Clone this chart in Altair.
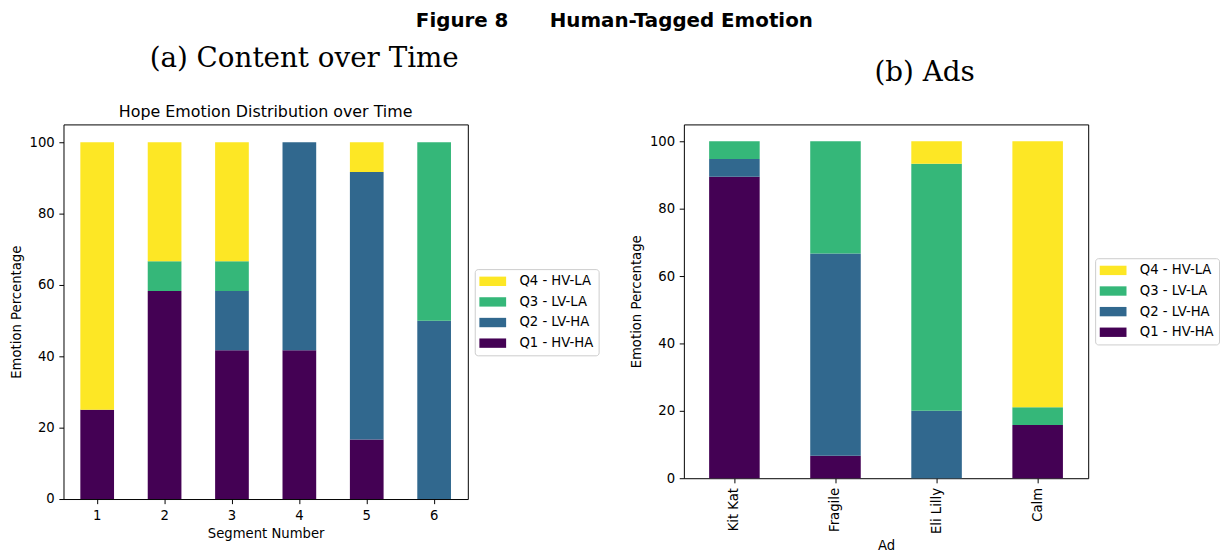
import altair as alt
import pandas as pd

# ---- data ----
segments = ["1", "2", "3", "4", "5", "6"]
seg_q1 = [25.0, 58.33, 41.67, 41.67, 16.67, 0.0]
seg_q2 = [0.0, 0.0, 16.67, 58.33, 75.0, 50.0]
seg_q3 = [0.0, 8.33, 8.33, 0.0, 0.0, 50.0]
seg_q4 = [75.0, 33.33, 33.33, 0.0, 8.33, 0.0]

ads = ["Kit Kat", "Fragile", "Eli Lilly", "Calm"]
ad_q1 = [89.47, 6.67, 0.0, 15.79]
ad_q2 = [5.26, 60.0, 20.0, 0.0]
ad_q3 = [5.26, 33.33, 73.33, 5.26]
ad_q4 = [0.0, 0.0, 6.67, 78.95]

quadrants = ["Q1 - HV-HA", "Q2 - LV-HA", "Q3 - LV-LA", "Q4 - HV-LA"]
quad_colors = ["#440154", "#31688e", "#35b779", "#fde725"]
y_ticks = [0, 20, 40, 60, 80, 100]

legend_order = quadrants[::-1]
legend_colors = quad_colors[::-1]


def long_table(cats, series, key):
    rows = []
    for qi, (q, vals) in enumerate(zip(quadrants, series)):
        for c, v in zip(cats, vals):
            rows.append({key: c, "quadrant": q, "rank": qi + 1, "value": v})
    return pd.DataFrame(rows)


seg_df = long_table(segments, [seg_q1, seg_q2, seg_q3, seg_q4], "segment")
ad_df = long_table(ads, [ad_q1, ad_q2, ad_q3, ad_q4], "ad")


def panel(df, field, cats, xtitle, w, h, label_angle, title_pad):
    return alt.Chart(df).mark_bar().encode(
        x=alt.X(f"{field}:N", sort=cats, title=xtitle,
                scale=alt.Scale(paddingInner=0.5, paddingOuter=0.25),
                axis=alt.Axis(labelAngle=label_angle, titlePadding=title_pad)),
        y=alt.Y("value:Q", stack="zero", title="Emotion Percentage",
                scale=alt.Scale(domain=[0, 105], nice=False),
                axis=alt.Axis(values=y_ticks)),
        color=alt.Color("quadrant:N",
                        scale=alt.Scale(domain=legend_order, range=legend_colors),
                        legend=alt.Legend(title=None, orient="right")),
        order=alt.Order("rank:Q", sort="ascending"),
    ).properties(width=w, height=h)


left_inner = panel(seg_df, "segment", segments, "Segment Number", 408, 378, 0, 5).properties(
    title=alt.TitleParams("Hope Emotion Distribution over Time", font="DejaVu Sans",
                          fontSize=16, fontWeight="normal", color="black",
                          anchor="middle", frame="group", offset=4)
)
right_inner = panel(ad_df, "ad", ads, "Ad", 408, 357, 270, 5)

left_outer = alt.hconcat(left_inner, title=alt.TitleParams(
    "(a) Content over Time", font="DejaVu Serif", fontSize=28, fontWeight="normal",
    color="black", anchor="middle", offset=31)).resolve_scale(color="independent")
right_outer = alt.hconcat(right_inner, title=alt.TitleParams(
    "(b) Ads", font="DejaVu Serif", fontSize=28, fontWeight="normal",
    color="black", anchor="middle", offset=37)).resolve_scale(color="independent")

chart = alt.concat(left_outer, right_outer, columns=2, spacing=29).resolve_scale(
    color="independent"
).properties(
    title=alt.TitleParams("Figure 8\u00a0\u00a0\u00a0\u00a0\u00a0\u00a0Human-Tagged Emotion",
                          font="DejaVu Sans", fontSize=20, fontWeight="bold",
                          color="black", anchor="middle", offset=15),
    padding=0,
).configure_view(
    stroke="black", strokeWidth=1
).configure_axis(
    domain=False, grid=False,
    labelFont="DejaVu Sans", labelFontSize=13.33, labelColor="black",
    titleFont="DejaVu Sans", titleFontSize=13.33, titleFontWeight="normal", titleColor="black",
    tickColor="black", tickSize=4.67, tickWidth=1, labelPadding=4.67,
).configure_axisY(titlePadding=6).configure_legend(
    labelFont="DejaVu Sans", labelFontSize=13.33, labelColor="black",
    symbolType="M-2,-0.7H2V0.7H-2Z", symbolSize=182.25, symbolStrokeWidth=0,
    symbolOpacity=1, symbolOffset=5.85, labelOffset=19.9, padding=5.3, rowPadding=6.8,
    strokeColor="#cccccc", fillColor="white", cornerRadius=3, offset=7,
    layout={"expr": "{right: {anchor: 'middle'}}"},
)

chart.save("out.html", embed_options={"renderer": "svg", "actions": False})
